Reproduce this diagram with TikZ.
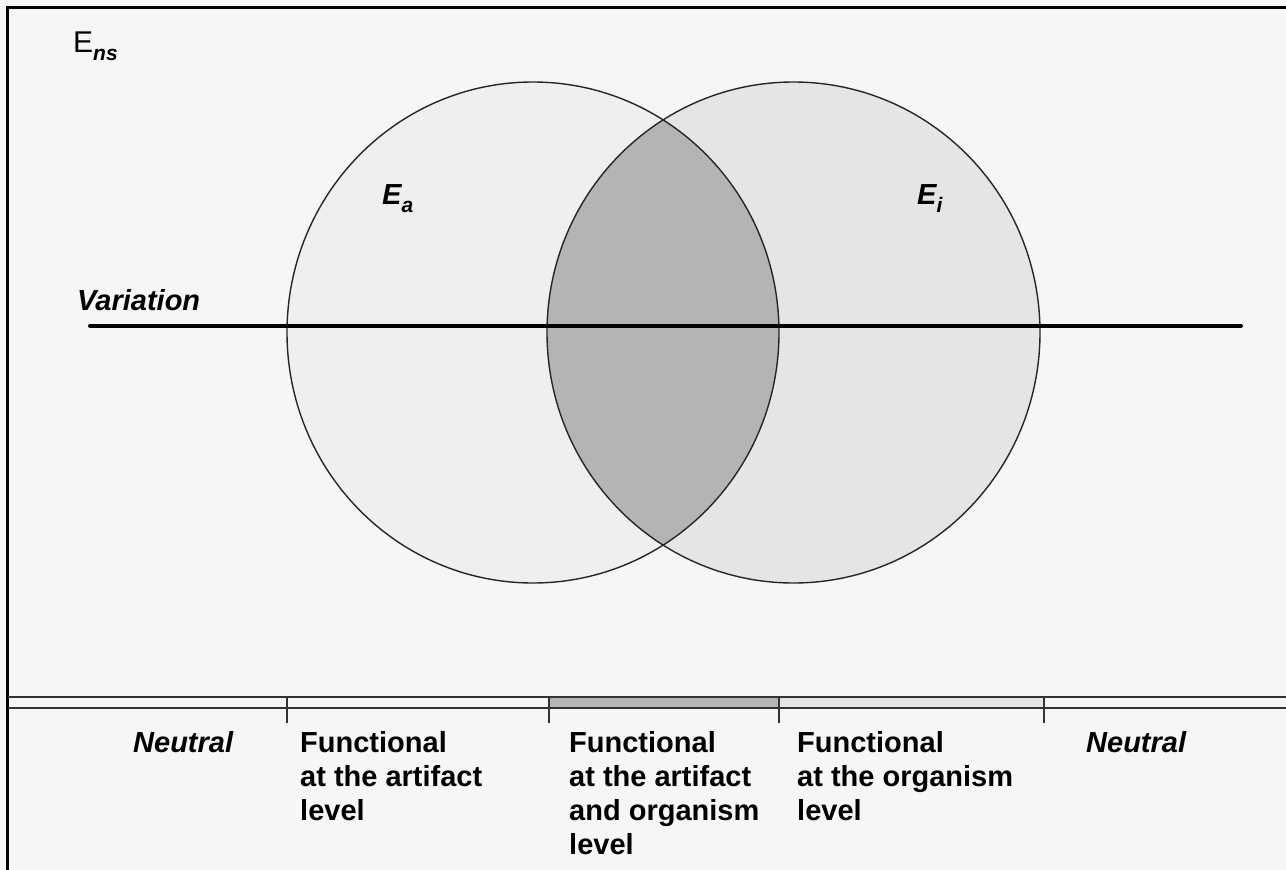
\documentclass[tikz,border=0pt]{standalone}
\usepackage{fontspec}
\setmainfont{Liberation Sans}
\begin{document}
\begin{tikzpicture}[x=1pt,y=-1pt,
  lbl/.style={font=\fontsize{29}{34}\selectfont\bfseries, align=left, anchor=north west, inner sep=0pt},
  ilbl/.style={font=\fontsize{29}{34}\selectfont\bfseries\itshape, anchor=base west, inner sep=0pt},
  rim/.style={draw=black!85, line width=1.4pt},
  barline/.style={draw=black!80, line width=2pt},
  tick/.style={draw=black!80, line width=1.4pt}]
\definecolor{bg}{HTML}{F6F6F6}
\definecolor{leftfill}{HTML}{EFEFEF}
\definecolor{rightfill}{HTML}{E5E5E5}
\definecolor{midfill}{HTML}{B4B4B4}
\useasboundingbox (0,0) rectangle (1286,870);
\fill[bg] (0,0) rectangle (1286,870);
% border
\draw[line width=3pt] (7,870) -- (7,7) -- (1286,7);
% circles
\fill[leftfill] (533,332.5) ellipse [x radius=246, y radius=250.5];
\fill[rightfill] (793.5,332.5) ellipse [x radius=246.5, y radius=250.5];
\begin{scope}
  \clip (533,332.5) ellipse [x radius=246, y radius=250.5];
  \fill[midfill] (793.5,332.5) ellipse [x radius=246.5, y radius=250.5];
\end{scope}
\draw[rim] (533,332.5) ellipse [x radius=246, y radius=250.5];
\draw[rim] (793.5,332.5) ellipse [x radius=246.5, y radius=250.5];
% variation line
\coordinate (vl) at (90,326);
\coordinate (vr) at (1241,326);
\draw[line width=4pt, line cap=round] (vl) -- (vr);
\node[ilbl] (var) at (77,310) {Variation};
% labels
\node[inner sep=0pt, anchor=base west, font=\fontsize{30}{34}\selectfont] (ens) at (73,52) {E\raisebox{-9pt}{\fontsize{21}{24}\selectfont\bfseries\itshape ns}};
\node[inner sep=0pt, anchor=base west, font=\fontsize{29}{34}\selectfont\bfseries\itshape] (ea) at (382,204) {E\raisebox{-8pt}{\fontsize{21}{24}\selectfont a}};
\node[inner sep=0pt, anchor=base west, font=\fontsize{29}{34}\selectfont\bfseries\itshape] (ei) at (917,204) {E\raisebox{-8pt}{\fontsize{21}{24}\selectfont i}};
% bottom bar
\fill[midfill] (549,697) rectangle (779,708);
\fill[rightfill] (779,697) rectangle (1044,708);
\coordinate (bl1) at (8,697);
\coordinate (br1) at (1286,697);
\coordinate (bl2) at (8,708);
\coordinate (br2) at (1286,708);
\draw[barline] (bl1) -- (br1);
\draw[barline] (bl2) -- (br2);
\foreach \t in {287,549,779,1044} \draw[tick] (\t,697) -- (\t,723);
% bottom texts
\node[ilbl] (n1) at (133,752) {Neutral};
\node[lbl] (f1) at (300,731) {Functional\\at the artifact\\level};
\node[lbl] (f2) at (569,731) {Functional\\at the artifact\\and organism\\level};
\node[lbl] (f3) at (797,731) {Functional\\at the organism\\level};
\node[ilbl] (n2) at (1086,752) {Neutral};
\end{tikzpicture}
\end{document}
